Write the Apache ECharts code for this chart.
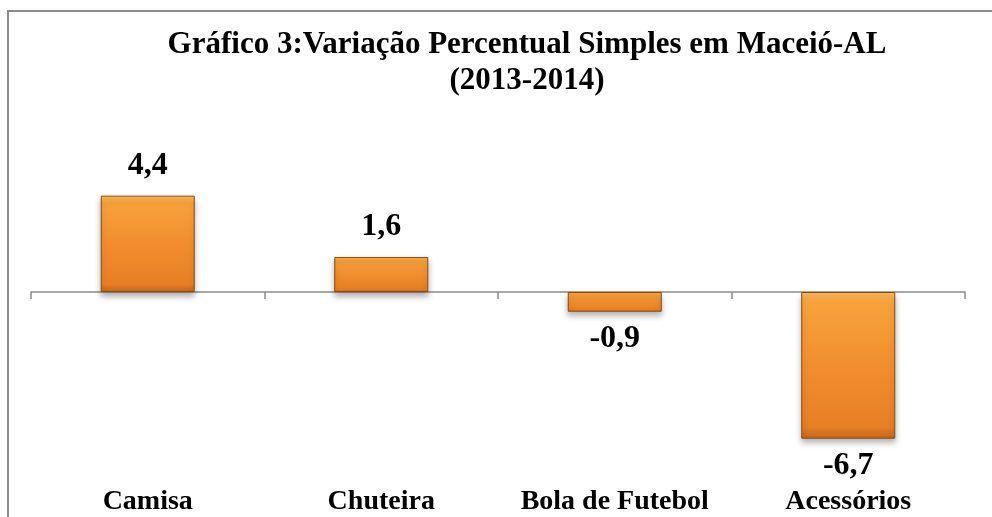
<!DOCTYPE html>
<html>
<head>
<meta charset="utf-8">
<script src="https://cdn.jsdelivr.net/npm/echarts@6/dist/echarts.min.js"></script>
<style>
  html, body { margin: 0; padding: 0; background: #ffffff; }
  #container { width: 992px; height: 517px; }
</style>
</head>
<body>
<div id="container"></div>
<script>
var categorias = ['Camisa', 'Chuteira', 'Bola de Futebol', 'Acessórios'];
var variacao = [4.4, 1.6, -0.9, -6.7];
var titulo = 'Gráfico 3:Variação Percentual Simples em Maceió-AL\n(2013-2014)';

var serif = "'Liberation Serif', 'Times New Roman', serif";

var dom = document.getElementById("container");
var myChart = echarts.init(dom);

var barColor = new echarts.graphic.LinearGradient(0, 0, 0, 1, [
    { offset: 0, color: '#fcbb58' },
    { offset: 0.08, color: '#f8a23c' },
    { offset: 0.5, color: '#f18e2f' },
    { offset: 0.92, color: '#e77f25' },
    { offset: 1, color: '#c4661a' }
]);

var dados = variacao.map(function (v) {
    return {
        value: v,
        label: {
            position: v < 0 ? 'bottom' : 'top',
            distance: v < 0 ? 11 : 14
        }
    };
});

var option = {
    backgroundColor: '#ffffff',
    animation: false,
    title: {
        text: titulo,
        left: 522,
        top: 22,
        textAlign: 'center',
        textStyle: {
            fontFamily: serif,
            fontWeight: 'bold',
            fontSize: 31,
            lineHeight: 36,
            color: '#000000'
        }
    },
    graphic: [{
        type: 'rect',
        shape: { x: 8, y: 11, width: 1000, height: 520 },
        style: { fill: 'none', stroke: '#8c8c8c', lineWidth: 2 },
        silent: true
    }],
    grid: {
        left: 31,
        right: 27,
        top: 182.5,
        bottom: 71.7
    },
    xAxis: [{
        type: 'category',
        data: categorias,
        axisLine: {
            onZero: true,
            lineStyle: { color: '#8c8c8c', width: 1.5 }
        },
        axisTick: {
            show: true,
            length: 7,
            lineStyle: { color: '#8c8c8c', width: 1.5 }
        },
        axisLabel: { show: false }
    }, {
        type: 'category',
        data: categorias,
        position: 'bottom',
        axisLine: { show: false, onZero: false },
        axisTick: { show: false },
        axisLabel: {
            interval: 0,
            margin: 42,
            fontFamily: serif,
            fontWeight: 'bold',
            fontSize: 28,
            color: '#000000'
        }
    }],
    yAxis: {
        type: 'value',
        min: -7,
        max: 5,
        show: false,
        splitLine: { show: false }
    },
    series: [{
        type: 'bar',
        xAxisIndex: 0,
        data: dados,
        barWidth: 94,
        itemStyle: {
            color: barColor,
            borderColor: '#8b4a12',
            borderWidth: 1,
            shadowBlur: 6,
            shadowOffsetY: 4,
            shadowColor: 'rgba(0,0,0,0.3)'
        },
        label: {
            show: true,
            fontFamily: serif,
            fontWeight: 'bold',
            fontSize: 32,
            color: '#000000',
            formatter: function (p) {
                return String(p.value).replace('.', ',');
            }
        }
    }]
};

if (option && typeof option === "object") {
    myChart.setOption(option, true);
}
</script>
</body>
</html>
